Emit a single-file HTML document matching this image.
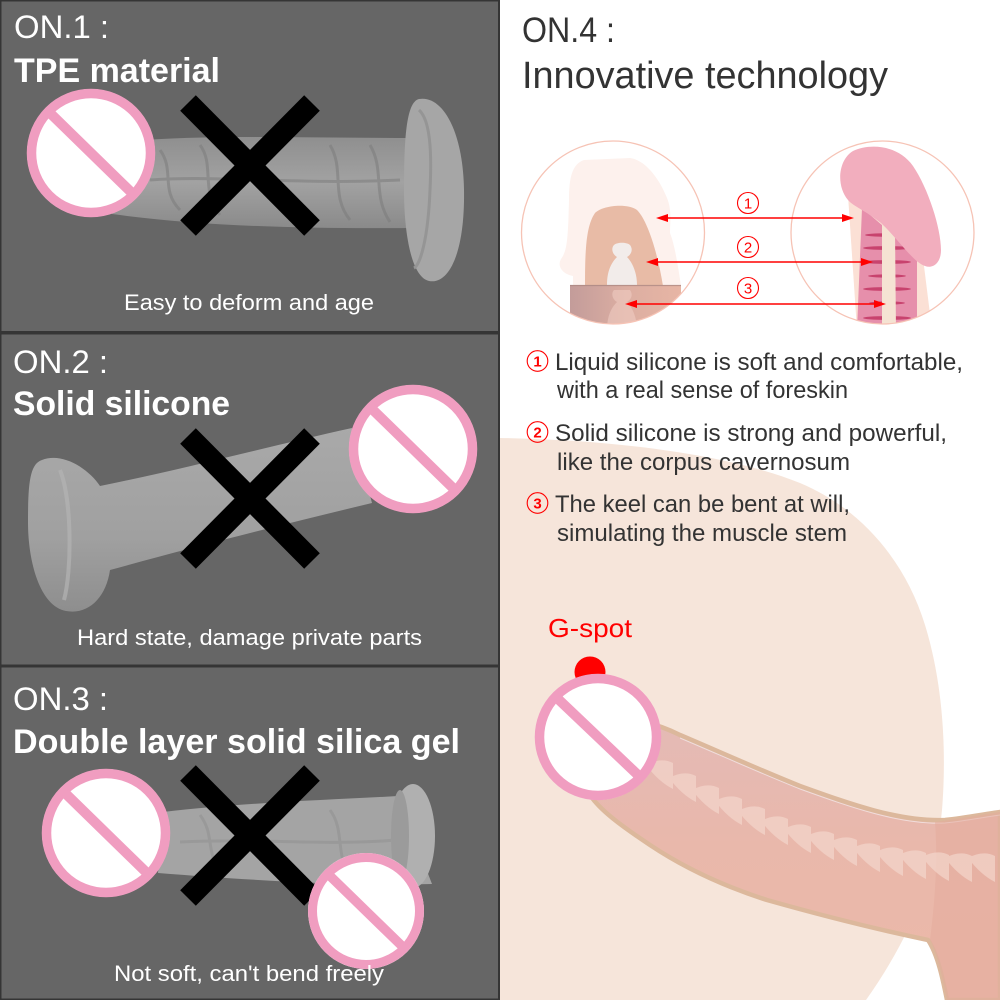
<!DOCTYPE html>
<html><head><meta charset="utf-8"><style>
html,body{margin:0;padding:0;background:#fff;}
svg{display:block;}
text{font-family:"Liberation Sans",sans-serif;}
</style></head><body>
<svg width="1000" height="1000" viewBox="0 0 1000 1000" xmlns="http://www.w3.org/2000/svg">
<defs>
<clipPath id="cl"><circle cx="613" cy="232.5" r="91.5"/></clipPath>
<clipPath id="cr"><circle cx="882.5" cy="232.5" r="91.5"/></clipPath>
<linearGradient id="band" x1="0" x2="1" y1="0" y2="0">
<stop offset="0" stop-color="#c39c9a"/><stop offset="0.5" stop-color="#dcaea2"/><stop offset="1" stop-color="#e7b5a4"/></linearGradient>
<linearGradient id="body" x1="0" x2="0" y1="0" y2="1">
<stop offset="0" stop-color="#e4bab6"/><stop offset="0.45" stop-color="#e9b8ab"/><stop offset="1" stop-color="#ecb9a8"/></linearGradient>
<linearGradient id="g1" x1="0" x2="0" y1="0" y2="1">
<stop offset="0" stop-color="#8f8f8f"/><stop offset="0.5" stop-color="#a2a2a2"/><stop offset="1" stop-color="#8a8a8a"/></linearGradient>
<linearGradient id="g2" x1="0" x2="0" y1="0" y2="1">
<stop offset="0" stop-color="#a9a9a9"/><stop offset="0.6" stop-color="#a0a0a0"/><stop offset="1" stop-color="#8e8e8e"/></linearGradient>
</defs>

<!-- right background -->
<rect x="500" y="0" width="500" height="1000" fill="#ffffff"/>
<path d="M500,438 C620,440 730,455 800,483 C860,508 905,560 925,625 C945,690 946,760 942,810 C936,880 905,945 866,1000 L500,1000 Z" fill="#f6e5da"/>

<!-- left panels -->
<rect x="0" y="0" width="500" height="1000" fill="#353535"/>
<rect x="1.5" y="1.5" width="496.5" height="329.5" fill="#666666"/>
<rect x="1.5" y="334.5" width="496.5" height="330" fill="#666666"/>
<rect x="1.5" y="667.5" width="496.5" height="331" fill="#666666"/>

<!-- Panel 1 object -->
<path d="M120,142 C200,134 300,138 412,138 L414,228 C300,229 200,226 112,214 Z" fill="url(#g1)"/>
<g stroke="#7c7c7c" stroke-width="3" fill="none" opacity="0.55">
<path d="M160,150 C175,170 160,190 180,210"/><path d="M200,145 C215,165 200,190 220,215"/>
<path d="M330,145 C345,170 330,195 350,220"/><path d="M370,145 C385,170 372,195 390,222"/>
<path d="M150,180 C220,175 300,185 400,180"/>
</g>
<path d="M419,99 C442,95 463,130 464,190 C465,250 450,285 429,281 C411,277 404,232 404,190 C404,140 406,102 419,99 Z" fill="#a6a6a6"/>
<path d="M419,110 C430,120 432,150 430,190 C428,240 420,265 414,268" stroke="#959595" stroke-width="3" fill="none"/>

<!-- Panel 2 object -->
<path d="M42,460 C62,452 88,468 100,486 C180,470 270,446 352,428 L372,503 C280,525 190,548 110,570 C106,598 88,615 66,611 C40,606 28,562 28,522 C28,482 30,464 42,460 Z" fill="url(#g2)"/>
<path d="M60,470 C72,500 72,570 64,600" stroke="#b4b4b4" stroke-width="4" fill="none" opacity="0.7"/>

<!-- Panel 3 object -->
<path d="M163,812 C250,802 330,800 398,796 L432,884 C350,886 260,881 158,873 Z" fill="#a4a4a4"/>
<g stroke="#8f8f8f" stroke-width="3" fill="none" opacity="0.5">
<path d="M200,815 C215,835 205,850 220,870"/><path d="M330,810 C345,830 335,855 350,875"/><path d="M180,842 C260,838 330,846 395,840"/>
</g>
<ellipse cx="413" cy="836" rx="22" ry="52" fill="#b0b0b0"/>
<ellipse cx="400" cy="836" rx="9" ry="46" fill="#9b9b9b"/>

<!-- X marks -->
<g stroke="#000" stroke-width="22" stroke-linecap="butt">
<line x1="188" y1="103" x2="312" y2="228"/><line x1="312" y1="103" x2="188" y2="228"/>
<line x1="188" y1="436" x2="312" y2="561"/><line x1="312" y1="436" x2="188" y2="561"/>
<line x1="188" y1="773" x2="312" y2="898"/><line x1="312" y1="773" x2="188" y2="898"/>
</g>

<!-- prohibited signs left -->
<g>
<circle cx="91" cy="153" r="64" fill="#fff"/><circle cx="91" cy="153" r="59.5" fill="none" stroke="#f09dc0" stroke-width="9.5"/>
<line x1="50" y1="113" x2="132" y2="193" stroke="#f09dc0" stroke-width="10"/>
<circle cx="413" cy="449" r="64" fill="#fff"/><circle cx="413" cy="449" r="59.5" fill="none" stroke="#f09dc0" stroke-width="9.5"/>
<line x1="372" y1="409" x2="454" y2="489" stroke="#f09dc0" stroke-width="10"/>
<circle cx="106" cy="833" r="64" fill="#fff"/><circle cx="106" cy="833" r="59.5" fill="none" stroke="#f09dc0" stroke-width="9.5"/>
<line x1="65" y1="793" x2="147" y2="873" stroke="#f09dc0" stroke-width="10"/>
<circle cx="366" cy="911" r="58" fill="#fff"/><circle cx="366" cy="911" r="53.5" fill="none" stroke="#f09dc0" stroke-width="9"/>
<line x1="329" y1="875" x2="403" y2="947" stroke="#f09dc0" stroke-width="9.5"/>
</g>

<!-- left texts -->
<g fill="#ffffff">
<text x="14" y="38" font-size="32" textLength="95" lengthAdjust="spacingAndGlyphs">ON.1 :</text>
<text x="14" y="82" font-size="34" font-weight="bold" textLength="206" lengthAdjust="spacingAndGlyphs">TPE material</text>
<text x="124" y="310" font-size="22" textLength="250" lengthAdjust="spacingAndGlyphs">Easy to deform and age</text>
<text x="13" y="373" font-size="32" textLength="95" lengthAdjust="spacingAndGlyphs">ON.2 :</text>
<text x="13" y="415" font-size="34" font-weight="bold" textLength="217" lengthAdjust="spacingAndGlyphs">Solid silicone</text>
<text x="77" y="645" font-size="22" textLength="345" lengthAdjust="spacingAndGlyphs">Hard state, damage private parts</text>
<text x="13" y="710" font-size="32" textLength="95" lengthAdjust="spacingAndGlyphs">ON.3 :</text>
<text x="13" y="753" font-size="34" font-weight="bold" textLength="447" lengthAdjust="spacingAndGlyphs">Double layer solid silica gel</text>
<text x="114" y="981" font-size="22" textLength="270" lengthAdjust="spacingAndGlyphs">Not soft, can't bend freely</text>
</g>

<!-- right titles -->
<g fill="#333333">
<text x="522" y="42" font-size="35" textLength="93" lengthAdjust="spacingAndGlyphs">ON.4 :</text>
<text x="522" y="88" font-size="38" textLength="366" lengthAdjust="spacingAndGlyphs">Innovative technology</text>
</g>

<!-- left diagram circle -->
<circle cx="613" cy="232.5" r="91.5" fill="#fff"/>
<g clip-path="url(#cl)">
<path d="M573,286 L573,276 C562,274 557,266 561,259 C567,251 568,240 569,200 C569,178 572,164 584,160 L630,158 C646,160 660,180 667,198 C672,210 670,222 670,233 C675,246 678,266 681,286 Z" fill="#fdf1ed"/>
<path d="M585,286 C585,250 586,226 595,213 C603,205 628,203 637,210 C648,221 658,255 663,286 Z" fill="#e8bba6"/>
<path d="M607,285 C607,270 612,262 617,257 C612,254 611,248 614,245 C617,242 627,242 630,245 C633,249 632,254 627,257 C632,262 637,272 637,285 Z" fill="#f2ecea"/>
<rect x="570" y="285" width="111" height="45" fill="url(#band)"/>
<path d="M607,330 C607,315 612,307 617,302 C612,299 611,293 614,290 L630,290 C633,294 632,299 627,302 C632,307 637,317 637,330 Z" fill="#f3d2c8" opacity="0.5"/>
<line x1="570" y1="285.5" x2="681" y2="285.5" stroke="#a8857f" stroke-width="1.2" opacity="0.7"/>
</g>
<circle cx="613" cy="232.5" r="91.5" fill="none" stroke="#f6c3b5" stroke-width="1.3"/>

<!-- right diagram circle -->
<circle cx="882.5" cy="232.5" r="91.5" fill="#fff"/>
<g clip-path="url(#cr)">
<path d="M848,195 L922,250 L932,330 L857,330 Z" fill="#fbe0d5"/>
<path d="M862,208 L917,255 L917,330 L857,330 Z" fill="#e68fab"/>
<g fill="#c8436e">
<ellipse cx="887" cy="235" rx="22" ry="1.8"/><ellipse cx="887" cy="248" rx="24" ry="1.9"/>
<ellipse cx="887" cy="262" rx="24" ry="1.9"/><ellipse cx="887" cy="276" rx="19" ry="1.6"/>
<ellipse cx="887" cy="289" rx="24" ry="1.9"/><ellipse cx="887" cy="303" rx="18" ry="1.6"/>
<ellipse cx="887" cy="318" rx="24" ry="1.9"/>
</g>
<path d="M882,222 L895,232 L896,330 L882,330 Z" fill="#f5e3d3"/>
<path d="M848,200 C836,186 838,160 853,151 C870,143 898,145 913,166 C928,188 941,228 941,250 C941,263 933,269 925,266 C913,262 900,241 881,223 C866,211 853,206 848,200 Z" fill="#f2aebe"/>
</g>
<circle cx="882.5" cy="232.5" r="91.5" fill="none" stroke="#f6c3b5" stroke-width="1.3"/>

<!-- arrows -->
<g stroke="#ff0000" stroke-width="1.6">
<line x1="664" y1="218" x2="846" y2="218"/>
<line x1="654" y1="262" x2="865" y2="262"/>
<line x1="633" y1="304" x2="878" y2="304"/>
</g>
<g fill="#ff0000">
<polygon points="656,218 668,214 668,222"/><polygon points="854,218 842,214 842,222"/>
<polygon points="646,262 658,258 658,266"/><polygon points="873,262 861,258 861,266"/>
<polygon points="625,304 637,300 637,308"/><polygon points="886,304 874,300 874,308"/>
</g>
<g fill="#fff" stroke="#ff0000" stroke-width="1.1">
<circle cx="748" cy="203" r="10.5"/><circle cx="748" cy="247" r="10.5"/><circle cx="748" cy="288" r="10.5"/>
</g>
<g fill="#ff0000" font-size="15" text-anchor="middle">
<text x="748" y="208.5">1</text><text x="748" y="252.5">2</text><text x="748" y="293.5">3</text>
</g>

<!-- list -->
<g fill="none" stroke="#ff0000" stroke-width="1.1">
<circle cx="537.5" cy="361" r="10.3"/><circle cx="537.5" cy="432" r="10.3"/><circle cx="537.5" cy="503" r="10.3"/>
</g>
<g fill="#ff0000" font-size="15" font-weight="bold" text-anchor="middle">
<text x="537.5" y="366.5">1</text><text x="537.5" y="437.5">2</text><text x="537.5" y="508.5">3</text>
</g>
<g fill="#333333" font-size="24">
<text x="555" y="370" textLength="408" lengthAdjust="spacingAndGlyphs">Liquid silicone is soft and comfortable,</text>
<text x="557" y="398" textLength="291" lengthAdjust="spacingAndGlyphs">with a real sense of foreskin</text>
<text x="555" y="441" textLength="392" lengthAdjust="spacingAndGlyphs">Solid silicone is strong and powerful,</text>
<text x="557" y="470" textLength="293" lengthAdjust="spacingAndGlyphs">like the corpus cavernosum</text>
<text x="555" y="512" textLength="295" lengthAdjust="spacingAndGlyphs">The keel can be bent at will,</text>
<text x="557" y="541" textLength="290" lengthAdjust="spacingAndGlyphs">simulating the muscle stem</text>
</g>

<!-- G-spot -->
<text x="548" y="637" font-size="26" fill="#ff0000" textLength="84" lengthAdjust="spacingAndGlyphs">G-spot</text>
<circle cx="590" cy="672" r="15.5" fill="#ff0000"/>

<!-- body -->
<path d="M600,720 C630,715 660,725 680,735 C720,752 760,770 800,786 C850,804 900,822 945,820 C965,818 985,814 1000,812 L1000,1000 L947,1000 C943,980 938,955 928,940 C880,930 820,915 767,900 C720,885 680,865 650,845 C620,825 600,810 590,795 Z" fill="url(#body)" stroke="#dcb89c" stroke-width="4.5" stroke-linejoin="round"/>
<path d="M680,738 C720,755 760,773 800,789 C850,807 900,825 945,823 C965,821 985,817 1000,815" fill="none" stroke="#f3e6e6" stroke-width="1" opacity="0.8"/>
<path d="M935,822 C965,818 985,814 1000,812 L1000,1000 L947,1000 C943,980 938,955 930,940 C935,900 938,860 935,822 Z" fill="#e4ab9c" opacity="0.55"/>
<g fill="#f4d6cc" opacity="0.7">
<path d="M646,765 Q661,757 673,763 L673,789 Q659,782 646,765 Z"/>
<path d="M669,778 Q684,770 696,776 L696,802 Q682,795 669,778 Z"/>
<path d="M692,790 Q707,782 719,788 L719,814 Q705,807 692,790 Z"/>
<path d="M715,801 Q730,793 742,799 L742,825 Q728,818 715,801 Z"/>
<path d="M738,811 Q753,803 765,809 L765,835 Q751,828 738,811 Z"/>
<path d="M761,821 Q776,813 788,819 L788,845 Q774,838 761,821 Z"/>
<path d="M784,829 Q799,821 811,827 L811,853 Q797,846 784,829 Z"/>
<path d="M807,836 Q822,828 834,834 L834,860 Q820,853 807,836 Z"/>
<path d="M830,842 Q845,834 857,840 L857,866 Q843,859 830,842 Z"/>
<path d="M853,848 Q868,840 880,846 L880,872 Q866,865 853,848 Z"/>
<path d="M876,852 Q891,844 903,850 L903,876 Q889,869 876,852 Z"/>
<path d="M899,855 Q914,847 926,853 L926,879 Q912,872 899,855 Z"/>
<path d="M922,857 Q937,849 949,855 L949,881 Q935,874 922,857 Z"/>
<path d="M945,858 Q960,850 972,856 L972,882 Q958,875 945,858 Z"/>
<path d="M968,858 Q983,850 995,856 L995,882 Q981,875 968,858 Z"/>
</g>

<!-- right prohibited sign -->
<circle cx="598" cy="737" r="63" fill="#fff"/>
<circle cx="598" cy="737" r="58.5" fill="none" stroke="#f09dc0" stroke-width="9.5"/>
<line x1="557" y1="698" x2="639" y2="776" stroke="#f09dc0" stroke-width="10"/>
</svg>
</body></html>
